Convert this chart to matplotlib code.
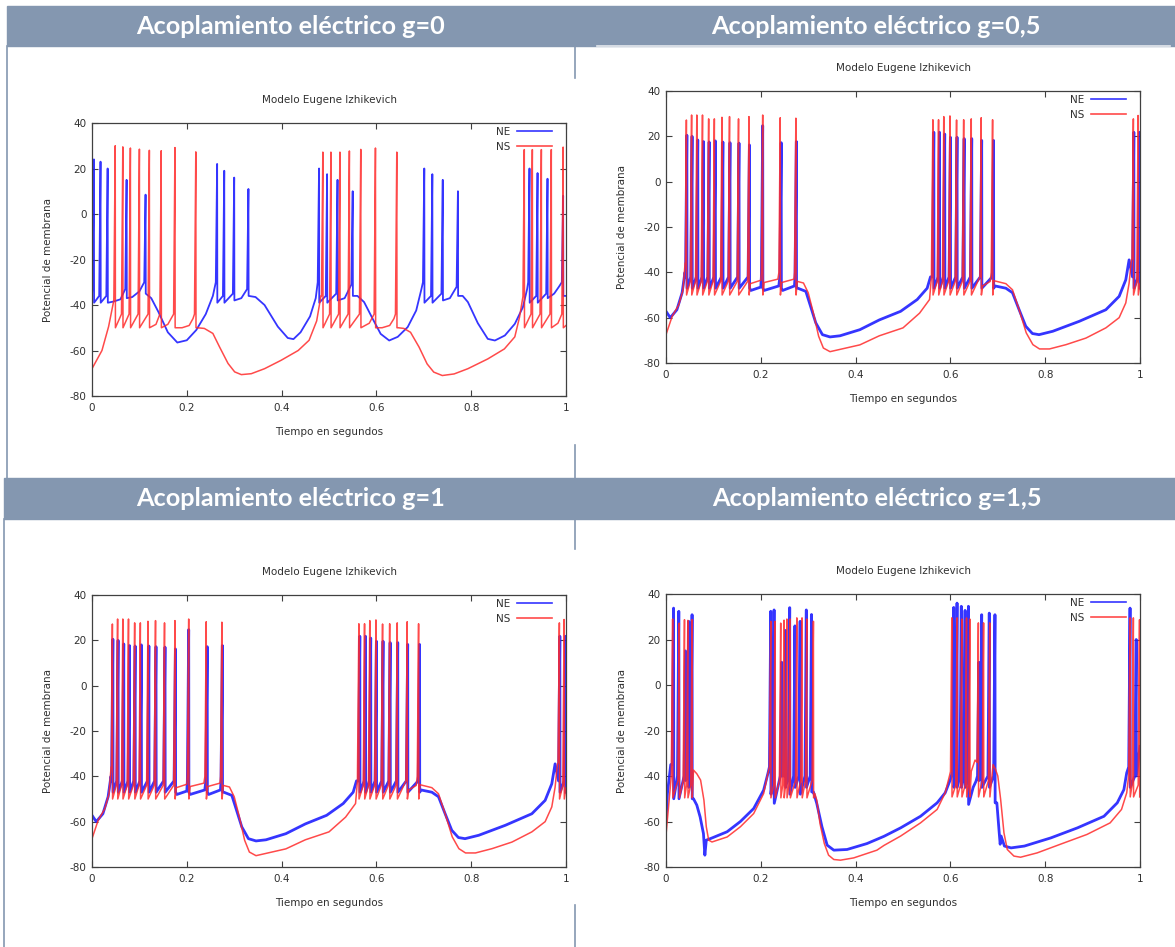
import numpy as np
import matplotlib
matplotlib.use("Agg")
import matplotlib.pyplot as plt
from matplotlib.patches import Rectangle
from matplotlib.lines import Line2D

plt.rcParams['axes.unicode_minus'] = False
plt.rcParams['font.family'] = ['DejaVu Sans']

W, H = 1175, 947

# ---------------- datos ----------------
# cada espiga: (tiempo, valor antes del disparo, pico, reinicio)
# g = 0
p1_ne_base = [(0.0, -36), (0.045, -38.5), (0.060, -37.5), (0.085, -36.5), (0.100, -34),
              (0.125, -37), (0.14, -43), (0.16, -52), (0.18, -56.5), (0.20, -55.5),
              (0.22, -51), (0.24, -44), (0.255, -36), (0.315, -37),
              (0.345, -36.5), (0.364, -40), (0.392, -49.5), (0.413, -54.5), (0.425, -55),
              (0.44, -52), (0.46, -45), (0.472, -37), (0.533, -37),
              (0.560, -36), (0.574, -38.7), (0.592, -46), (0.609, -52.7), (0.627, -55.6),
              (0.645, -54), (0.666, -49.7), (0.684, -42.4), (0.695, -33), (0.755, -37),
              (0.782, -36), (0.793, -38.7), (0.814, -48), (0.835, -54.9), (0.850, -55.6),
              (0.871, -53.4), (0.892, -48.3), (0.909, -41), (0.918, -33),
              (0.975, -35), (0.985, -32), (1.0, -36)]
p1_ne_spk = [(0.004, -30, 24, -39), (0.018, -36, 23, -39), (0.033, -36, 20, -39),
             (0.073, -33, 15, -37), (0.113, -30, 8.5, -35),
             (0.264, -30, 22, -39), (0.279, -36, 19, -39), (0.300, -35, 16, -38),
             (0.330, -33, 11, -36),
             (0.479, -30, 20, -39), (0.496, -36, 17.5, -39), (0.518, -35, 15, -38),
             (0.550, -31, 10, -36),
             (0.701, -30, 20, -39), (0.718, -36, 17.5, -39), (0.740, -35, 15, -38),
             (0.772, -32, 10, -36),
             (0.923, -30, 20, -39), (0.940, -36, 18, -39), (0.961, -35, 15.5, -37),
             (0.994, -30, 8, -36)]
p1_ns_base = [(0.0, -68), (0.021, -60), (0.035, -49.5), (0.046, -38),
              (0.135, -48.5), (0.160, -48.5), (0.19, -50), (0.205, -49), (0.213, -46),
              (0.222, -50), (0.237, -50.3), (0.255, -52.5), (0.269, -58.4), (0.287, -65.7),
              (0.301, -69.4), (0.315, -70.6), (0.336, -70.2), (0.364, -68), (0.399, -64.3),
              (0.435, -60), (0.458, -55.5), (0.474, -47), (0.483, -36),
              (0.585, -48), (0.612, -50), (0.628, -49), (0.637, -46),
              (0.646, -50), (0.658, -50.3), (0.672, -52), (0.690, -58.5), (0.707, -65.9),
              (0.721, -69.5), (0.739, -71), (0.764, -70.3), (0.793, -68), (0.835, -63.7),
              (0.870, -59.3), (0.892, -54), (0.902, -45.3), (0.909, -36.5),
              (0.983, -48), (1.0, -49)]
p1_ns_spk = [(0.049, -35, 30, -50), (0.065, -44, 29.5, -50), (0.081, -44, 29, -50),
             (0.100, -44, 28.5, -50), (0.121, -44, 28, -50), (0.146, -44, 27.8, -50),
             (0.175, -44, 29.2, -50), (0.219, -44, 27.3, -50),
             (0.487, -36, 27.2, -50), (0.504, -44, 27.2, -50), (0.523, -44, 27.2, -50),
             (0.543, -44, 27.7, -50), (0.567, -44, 28.4, -50), (0.598, -44, 29, -50),
             (0.643, -44, 27.2, -50),
             (0.912, -36, 28.3, -50), (0.929, -44, 28.3, -50), (0.948, -44, 28.3, -50),
             (0.969, -44, 28.3, -50), (0.994, -44, 29.4, -50)]

# g = 0,5 y g = 1 (las dos figuras son iguales)
p2_ns_base = [(0.0, -67.5), (0.013, -59.4), (0.027, -54.3), (0.036, -47.7), (0.041, -36),
              (0.178, -45), (0.200, -43.5), (0.207, -44.5), (0.236, -43),
              (0.244, -44.5), (0.270, -43),
              (0.277, -44), (0.29, -44.7), (0.30, -49), (0.311, -58), (0.322, -68.2),
              (0.332, -73.4), (0.346, -75), (0.367, -74), (0.409, -72), (0.45, -68),
              (0.50, -64.5), (0.535, -58), (0.556, -52), (0.560, -42),
              (0.668, -46), (0.684, -44),
              (0.692, -43.7), (0.717, -45), (0.731, -47.7), (0.745, -56.5), (0.760, -66.7),
              (0.774, -71.9), (0.788, -73.8), (0.809, -73.8), (0.844, -71.9), (0.886, -69),
              (0.928, -64.5), (0.956, -60), (0.970, -53.5), (0.977, -44.8), (0.982, -34.5),
              (1.0, -45)]
p2_ns_t = [0.043, 0.054, 0.065, 0.077, 0.090, 0.102, 0.118, 0.134, 0.153, 0.175, 0.204,
           0.241, 0.274, 0.563, 0.575, 0.586, 0.599, 0.613, 0.628, 0.644, 0.665, 0.689,
           0.986, 0.996]
p2_ns_peak = [27.2, 29.4, 29.4, 29.4, 27.7, 27.7, 28.4, 28.7, 27.7, 28.7, 29.4,
              28.2, 28, 27.3, 27.3, 28.7, 29, 27.2, 27.3, 27.7, 28.2, 27.3,
              27.7, 29.2]
p2_ns_pre = [-36, -44, -44, -44, -44, -44, -44, -44, -44, -44, -40,
             -40, -40, -36, -44, -44, -44, -44, -44, -44, -42, -40,
             -34, -44]
p2_ne_base = [(0.0, -57.2), (0.009, -60), (0.023, -56.5), (0.034, -49), (0.040, -40),
              (0.179, -48), (0.200, -46.5), (0.207, -48), (0.238, -46),
              (0.246, -48), (0.271, -46),
              (0.278, -47), (0.295, -48.4), (0.305, -55), (0.316, -62.3), (0.330, -67.5),
              (0.346, -68.5), (0.367, -68), (0.409, -65.3), (0.45, -61), (0.495, -57.2),
              (0.530, -52), (0.551, -47), (0.558, -42),
              (0.694, -46), (0.717, -47), (0.731, -49), (0.745, -56.5), (0.759, -63.8),
              (0.773, -67), (0.787, -67.5), (0.816, -66), (0.872, -61.6), (0.928, -56.5),
              (0.956, -50.6), (0.970, -43.3), (0.977, -34.5)]
p2_ne_t = [0.044, 0.055, 0.067, 0.079, 0.091, 0.104, 0.120, 0.135, 0.154, 0.176, 0.204,
           0.243, 0.275, 0.565, 0.577, 0.588, 0.600, 0.614, 0.629, 0.645, 0.666, 0.691,
           0.987, 0.999]
p2_ne_peak = [20.5, 20, 18.4, 17.7, 17.5, 18, 17.5, 17.2, 17, 16.2, 24.7, 17.2, 17.7,
              21.8, 21.8, 21, 19.6, 19.6, 19, 19, 18.2, 18.2, 21.8, 21.8]

# g = 1,5
p4_ns_base = [(0.0, -66), (0.006, -52),
              (0.058, -37.4), (0.065, -39), (0.073, -41.8), (0.080, -50.6), (0.085, -62.3),
              (0.090, -68.2), (0.097, -69), (0.129, -66.8), (0.157, -62.3), (0.185, -56.5),
              (0.206, -47.7), (0.215, -38.9),
              (0.314, -47.7), (0.318, -50.6), (0.325, -61), (0.334, -69.7), (0.343, -74.8),
              (0.354, -76.7), (0.368, -77), (0.396, -76), (0.445, -72.6), (0.46, -70.5),
              (0.495, -66.4), (0.537, -60.6), (0.572, -54.7), (0.589, -47.4), (0.598, -40),
              (0.644, -38), (0.652, -33),
              (0.690, -35), (0.695, -37), (0.700, -40), (0.706, -50.3), (0.713, -65),
              (0.720, -72.3), (0.734, -75.2), (0.748, -75.7), (0.783, -73.8), (0.832, -70),
              (0.888, -65.7), (0.937, -60.6), (0.961, -54.7), (0.972, -47.4), (0.976, -40)]
p4_ns_spk = [(0.014, -40, 29, -49.6), (0.028, -42, 27.2, -49.6), (0.039, -42, 28.7, -49.6),
             (0.046, -44, 28.4, -49.6), (0.055, -44, 28.7, -49.6),
             (0.221, -36, 28, -49.6), (0.230, -44, 28, -49.6), (0.242, -42, 27.2, -49.6),
             (0.249, -44, 28.5, -49.6), (0.255, -44, 29, -49.6), (0.262, -44, 29, -49.6),
             (0.276, -42, 29.5, -49.6), (0.287, -42, 29.5, -49.6), (0.297, -42, 29, -49.6),
             (0.311, -42, 28, -49.6),
             (0.603, -38, 29.5, -49.2), (0.614, -44, 29.5, -49.2), (0.624, -44, 29, -49.2),
             (0.634, -44, 29.5, -49.2), (0.641, -44, 29, -49.2),
             (0.659, -34, 27.3, -49.2), (0.670, -42, 27.3, -49.2), (0.683, -42, 27.3, -49.2),
             (0.979, -38, 29.5, -49.2), (0.986, -44, 29.5, -49.2), (0.999, -44, 28.7, -49.2)]
p4_ne_base = [(0.0, -59.4), (0.003, -47.7), (0.010, -35),
              (0.058, -50), (0.065, -52.8), (0.072, -58), (0.079, -65.3), (0.082, -74.8),
              (0.085, -68.2), (0.094, -67.5), (0.129, -64.5), (0.157, -60), (0.185, -54.3),
              (0.206, -46.2), (0.215, -38.9),
              (0.311, -47), (0.318, -52), (0.329, -62.3), (0.340, -70.4), (0.354, -72.6),
              (0.382, -72.3), (0.424, -69.7), (0.46, -66.5), (0.495, -62.8), (0.537, -57.7),
              (0.572, -51.8), (0.589, -47.4), (0.600, -41.5),
              (0.648, -45), (0.654, -42.3),
              (0.698, -51.8), (0.703, -65), (0.705, -70), (0.707, -66.4), (0.714, -70.8),
              (0.728, -71.6), (0.756, -70.8), (0.812, -67.2), (0.868, -62.8), (0.924, -57.7),
              (0.952, -51.8), (0.966, -46), (0.972, -38.6), (1.0, -27)]
p4_ne_spk = [(0.016, -35, 33.8, -50), (0.027, -40, 32.4, -50), (0.041, -40, 15, -42),
             (0.048, -40, 28, -45), (0.055, -40, 30.9, -50),
             (0.221, -36, 32.4, -48), (0.228, -40, 33, -52), (0.244, -40, 10, -40),
             (0.252, -40, 24, -45), (0.261, -40, 34, -48), (0.272, -40, 26, -45),
             (0.283, -40, 28, -48), (0.296, -40, 33, -45), (0.307, -40, 31, -47),
             (0.607, -38, 34.1, -45), (0.614, -40, 36, -45), (0.623, -40, 34.6, -45),
             (0.631, -40, 32.8, -45), (0.638, -40, 34.6, -52.5),
             (0.660, -40, 10, -42), (0.666, -40, 30.9, -45), (0.682, -40, 31.6, -45),
             (0.694, -40, 30.9, -51.8),
             (0.979, -36, 33.8, -45), (0.992, -40, 20, -40)]

titles = ["Acoplamiento eléctrico g=0", "Acoplamiento eléctrico g=0,5",
          "Acoplamiento eléctrico g=1", "Acoplamiento eléctrico g=1,5"]


def spikes(ts, pres, peaks, reset):
    return [(t, p, k, reset) for t, p, k in zip(ts, pres, peaks)]


def trace(base, spk, w=0.0028):
    pts = list(base)
    for t, pre, peak, reset in spk:
        pts += [(t - w, pre), (t, peak), (t + 0.0004, reset)]
    pts.sort(key=lambda p: p[0])
    a = np.array(pts)
    return a[:, 0], a[:, 1]


p2_ns_spk = spikes(p2_ns_t, p2_ns_pre, p2_ns_peak, -50)
p2_ne_spk = spikes(p2_ne_t, [-42] * len(p2_ne_t), p2_ne_peak, -47)

panels = [
    ((92, 566, 123, 396), p1_ne_base, p1_ne_spk, p1_ns_base, p1_ns_spk, 1.3),
    ((666, 1140, 91, 363), p2_ne_base, p2_ne_spk, p2_ns_base, p2_ns_spk, 2.0),
    ((92, 566, 595, 867), p2_ne_base, p2_ne_spk, p2_ns_base, p2_ns_spk, 2.0),
    ((666, 1140, 594, 867), p4_ne_base, p4_ne_spk, p4_ns_base, p4_ns_spk, 2.0),
]

fig = plt.figure(figsize=(W / 100, H / 100), dpi=100)
fig.patch.set_facecolor('white')

# ---------------- tabla: barras de encabezado y bordes ----------------
bar = '#8497b0'
for (x0, x1, y0, y1) in [(7, 1175, 6, 46), (4, 1175, 478, 519)]:
    fig.patches.append(Rectangle((x0 / W, 1 - y1 / H), (x1 - x0) / W, (y1 - y0) / H,
                                 transform=fig.transFigure, color=bar, zorder=0))
for (x, y0, y1) in [(7, 46, 478), (4, 519, 947), (575, 46, 78), (575, 445, 478),
                    (575, 519, 549), (575, 905, 947)]:
    fig.add_artist(Line2D([x / W, x / W], [1 - y0 / H, 1 - y1 / H], color=bar, lw=1.2,
                          transform=fig.transFigure))
fig.add_artist(Line2D([597 / W, 1170 / W], [1 - 46.5 / H, 1 - 46.5 / H], color='#e6e9ee',
                      lw=1.2, transform=fig.transFigure))

for txt, (cx, cy) in zip(titles, [(291, 27), (876, 27), (291, 498), (877, 498)]):
    fig.text(cx / W, 1 - cy / H, txt, color='white', fontsize=18.2, fontweight='bold',
             family='Lato', ha='center', va='center')

# ---------------- graficos ----------------
gray = '#404040'
for (l, r, t, b), ne_b, ne_s, ns_b, ns_s, ne_lw in panels:
    ax = fig.add_axes([l / W, 1 - b / H, (r - l) / W, (b - t) / H])
    x, y = trace(ne_b, ne_s)
    ax.plot(x, y, color='#1f1fff', lw=ne_lw, alpha=0.9, label='NE', solid_joinstyle='round')
    x, y = trace(ns_b, ns_s)
    ax.plot(x, y, color='#ff2a2a', lw=1.1, alpha=0.85, label='NS')
    ax.set_xlim(0, 1)
    ax.set_ylim(-80, 40)
    ax.set_xticks([0, 0.2, 0.4, 0.6, 0.8, 1.0])
    ax.set_xticklabels(['0', '0.2', '0.4', '0.6', '0.8', '1'])
    ax.set_yticks([-80, -60, -40, -20, 0, 20, 40])
    ax.tick_params(direction='in', top=True, right=True, length=4.5, width=0.8,
                   colors=gray, labelsize=7.5, labelcolor='#303030')
    ax.tick_params(axis='x', pad=5)
    ax.tick_params(axis='y', pad=4)
    for s in ax.spines.values():
        s.set_color(gray)
        s.set_linewidth(0.9)
    hpx = b - t
    ax.set_title('Modelo Eugene Izhikevich', fontsize=7.5, color='#303030',
                 y=1 + 23 / hpx, va='center', pad=0)
    ax.set_xlabel('Tiempo en segundos', fontsize=7.5, color='#303030', va='center')
    ax.xaxis.set_label_coords(0.5, -36 / hpx)
    ax.set_ylabel('Potencial de membrana', fontsize=7.5, color='#303030', va='center')
    ax.yaxis.set_label_coords(-44 / (r - l), 0.5)
    leg = ax.legend(loc='upper right', bbox_to_anchor=(1 - 12 / (r - l), 1 - 2 / hpx),
                    frameon=False, markerfirst=False, fontsize=7.5, handlelength=3.4,
                    handletextpad=0.6, labelspacing=0.45, borderaxespad=0, borderpad=0.2)
    for txt in leg.get_texts():
        txt.set_color('#303030')
    for ln in leg.get_lines():
        ln.set_linewidth(1.2)

fig.savefig('out.png', dpi=100)
